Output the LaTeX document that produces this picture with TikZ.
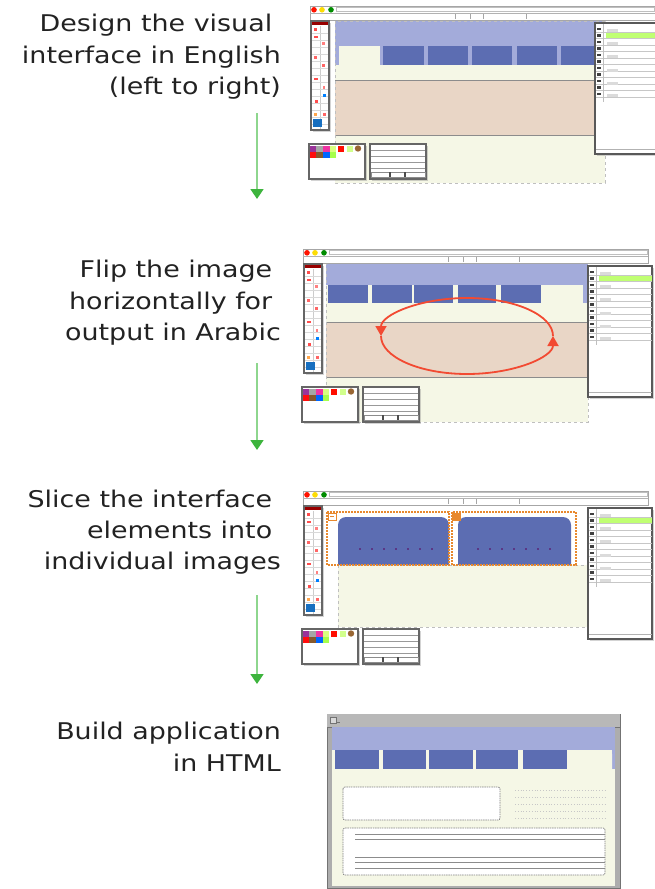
\documentclass[tikz,border=0pt]{standalone}
\usepackage{graphicx}
\usepackage{fontspec}
\setmainfont{DejaVu Sans}
\usetikzlibrary{arrows.meta,shadows}
\definecolor{hdrblue}{HTML}{A3ABDA}
\definecolor{tabblue}{HTML}{5C6DB2}
\definecolor{cream}{HTML}{F5F7E6}
\definecolor{peach}{HTML}{E9D6C6}
\definecolor{arrgreen}{HTML}{3DB43D}
\definecolor{arrline}{HTML}{8ED68E}
\definecolor{sliceorange}{HTML}{E8892E}
\definecolor{flipred}{HTML}{F24A32}
\definecolor{txt}{HTML}{222222}

\tikzset{
  lbl/.style={anchor=base east, inner sep=0pt, text=txt, font=\fontsize{23}{23}\selectfont},
  flow/.style={draw=arrline, line width=1.6pt, -{Triangle[width=13pt,length=10pt,color=arrgreen]}},
  flipline/.style={draw=flipred, line width=1.8pt, -{Triangle[width=11pt,length=10pt,color=flipred]}},
  pal/.style={fill=white, draw=black!60, line width=1.3pt, drop shadow={shadow xshift=1.5pt, shadow yshift=-1.5pt, opacity=0.35}},
  tab/.style={fill=tabblue},
  canvasline/.style={draw=black!45, line width=0.8pt},
  slicebox/.style={draw=sliceorange, line width=1.2pt, dashed, dash pattern=on 2pt off 1pt},
}

\newcommand{\appchrome}{%
  % top bar
  \draw[fill=white, draw=black!35, line width=0.8pt] (0,0) rectangle (345,14);
  \draw[black!30, line width=0.6pt] (0,7) -- (345,7);
  \draw[black!25, line width=0.5pt] (26,1.5) rectangle (344,5.5);
  \foreach \xx in {145,160,173,216} \draw[black!35, line width=0.6pt] (\xx,8) -- (\xx,13);
  \fill[red!85!orange] (4,3.8) circle (2.8);
  \fill[yellow!80!orange] (12,3.8) circle (2.8);
  \fill[green!55!black] (21,3.8) circle (2.8);
  % left tool palette
  \draw[pal] (1,15) rectangle (19,124);
  \fill[red!60!black] (1.6,15.6) rectangle (18.4,19);
  \draw[black!20, line width=0.4pt] (10,20) -- (10,123);
  \foreach \yy in {27,34,...,118} \draw[black!15, line width=0.4pt] (2,\yy) -- (18,\yy);
  \fill[red!70] (4,22) rectangle (7,25);
  \fill[red!70] (4,30) rectangle (8,32);
  \fill[red!50] (12,36) rectangle (15,39);
  \fill[red!60] (4,50) rectangle (7,53);
  \fill[red!60] (12,58) rectangle (15,61);
  \fill[red!70] (4,72) rectangle (8,74);
  \fill[red!50] (13,80) rectangle (15,83);
  \fill[blue!50!cyan] (13,88) rectangle (16,91);
  \fill[red!70] (5,94) rectangle (8,97);
  \fill[orange!70] (4,107) rectangle (7,110);
  \fill[red!60] (13,107) rectangle (16,110);
  \fill[cyan!50!blue] (3,113) rectangle (12,121);
  % right layer palette
  \draw[fill=white, draw=black!65, line width=1.6pt, drop shadow={shadow xshift=1.5pt, shadow yshift=-1.5pt, opacity=0.35}] (285,17) rectangle (349,148);
  \fill[green!45!yellow!55] (296,27) rectangle (349,32);
  \foreach \yy in {26,32.5,...,96} {
    \draw[black!22, line width=0.5pt] (286,\yy) -- (349,\yy);
    \fill[black!75] (286.6,\yy-4.2) rectangle (290.6,\yy-2);
  }
  \foreach \yy in {24.5,38,51,64.5,77.5,90} \fill[black!14] (297,\yy-2) rectangle (308,\yy+1);
  \draw[black!25, line width=0.5pt] (293,18) -- (293,96);
  \draw[black!30, line width=0.6pt] (286,143) -- (349,143);
  % colour palette
  \draw[pal] (-1,138) rectangle (55,173);
  \fill[violet!80] (0,139.5) rectangle (6,145.5);
  \fill[black!35] (6,139.5) rectangle (13,145.5);
  \fill[magenta!80] (13,139.5) rectangle (20,145.5);
  \fill[green!30!yellow!50] (20,139.5) rectangle (26,145.5);
  \fill[red!90!orange] (28,139.5) rectangle (34,145.5);
  \fill[green!40!yellow!45] (37,139.5) rectangle (43,145.5);
  \fill[brown!80!black] (48,142.5) circle (3.2);
  \fill[red!95] (0,145.5) rectangle (6,152);
  \fill[brown!70!black] (6,145.5) rectangle (13,152);
  \fill[blue!60!cyan] (13,145.5) rectangle (20,152);
  \fill[green!50!yellow!70] (20,145.5) rectangle (26,152);
  % info palette
  \draw[pal] (60,138) rectangle (116,173);
  \foreach \yy in {144,150,156,162} \draw[black!40, line width=0.6pt] (61,\yy) -- (115,\yy);
  \draw[black!45, line width=0.6pt] (61,166) rectangle (115,171);
  \fill[black!70] (79,166) rectangle (80.5,171);
  \fill[black!70] (94,166) rectangle (95.5,171);
}

\begin{document}
\begin{tikzpicture}[x=1pt,y=-1pt]
\useasboundingbox (0,0) rectangle (655,889);

% ---------------- labels ----------------
\node[lbl] (t1a) at (281,31) {\scalebox{1.17}[1]{Design the visual\ }};
\node[lbl] (t1b) at (281,63) {\scalebox{1.17}[1]{interface in English}};
\node[lbl] (t1c) at (281,94) {\scalebox{1.17}[1]{(left to right)}};
\node[lbl] (t2a) at (281,277) {\scalebox{1.17}[1]{Flip the image\ }};
\node[lbl] (t2b) at (281,309) {\scalebox{1.17}[1]{horizontally for\ }};
\node[lbl] (t2c) at (281,340) {\scalebox{1.17}[1]{output in Arabic}};
\node[lbl] (t3a) at (281,507) {\scalebox{1.17}[1]{Slice the interface\ }};
\node[lbl] (t3b) at (281,538) {\scalebox{1.17}[1]{elements into\ }};
\node[lbl] (t3c) at (281,569) {\scalebox{1.17}[1]{individual images}};
\node[lbl] (t4a) at (281,739) {\scalebox{1.17}[1]{Build application}};
\node[lbl] (t4b) at (281,771) {\scalebox{1.17}[1]{in HTML}};

% ---------------- arrows ----------------
\coordinate (a1s) at (257,113); \coordinate (a1e) at (257,199);
\coordinate (a2s) at (257,363); \coordinate (a2e) at (257,450);
\coordinate (a3s) at (257,595); \coordinate (a3e) at (257,684);
\draw[flow] (a1s) -- (a1e);
\draw[flow] (a2s) -- (a2e);
\draw[flow] (a3s) -- (a3e);

% ---------------- panel 1 : design ----------------
\fill[cream] (335,21) rectangle (605,183);
\fill[hdrblue] (335,21) rectangle (605,65);
\fill[cream] (339,46) rectangle (380,66);
\fill[cream] (335,65) rectangle (605,80);
\foreach \a/\b in {383/424,428/468,472/512,517/557,561/600} \fill[tabblue] (\a,46) rectangle (\b,65);
\fill[peach] (335,80) rectangle (605,135);
\draw[canvasline] (335,80) -- (605,80);
\draw[canvasline] (335,135) -- (605,135);
\draw[black!25, line width=0.6pt, dashed] (335,21) rectangle (605,183);
\begin{scope}[shift={(310,6)}]
\appchrome
\end{scope}

% ---------------- panel 2 : flipped ----------------
\fill[cream] (326,262) rectangle (588,422);
\fill[hdrblue] (326,262) rectangle (588,285);
\fill[hdrblue] (583,285) rectangle (588,303);
\fill[cream] (543,285) rectangle (583,304);
\foreach \a/\b in {328/368,372/412,414/453,458/496,501/541} \fill[tabblue] (\a,285) rectangle (\b,303);
\fill[peach] (326,322) rectangle (588,377);
\draw[canvasline] (326,322) -- (588,322);
\draw[canvasline] (326,377) -- (588,377);
\draw[black!25, line width=0.6pt, dashed] (326,262) rectangle (588,422);
\coordinate (flipR) at (553,336);
\coordinate (flipL) at (381,336);
\draw[flipline] (flipR) arc[start angle=0, end angle=-180, x radius=86, y radius=38];
\draw[flipline] (flipL) arc[start angle=180, end angle=0, x radius=86, y radius=38];
\begin{scope}[shift={(303,249)}]
\appchrome
\end{scope}

% ---------------- panel 3 : sliced ----------------
\fill[cream] (338,565) rectangle (588,627);
\draw[black!25, line width=0.6pt, dashed] (338,565) rectangle (588,627);
\fill[tabblue] (338,565) -- (338,525) arc[start angle=180, end angle=270, radius=8] -- (441,517) arc[start angle=270, end angle=360, radius=8] -- (449,565) -- cycle;
\fill[tabblue] (458,565) -- (458,525) arc[start angle=180, end angle=270, radius=8] -- (563,517) arc[start angle=270, end angle=360, radius=8] -- (571,565) -- cycle;
\foreach \xx in {360,372,...,432} \fill[violet!70!black] (\xx,549) circle (0.9);
\foreach \xx in {478,490,...,556} \fill[violet!70!black] (\xx,549) circle (0.9);
\draw[slicebox] (327,512) rectangle (449,565);
\draw[slicebox] (452,512) rectangle (576,565);
\draw[sliceorange, line width=1pt, fill=white] (328,513) rectangle (336,520);
\draw[sliceorange, line width=0.8pt] (330,516.5) -- (334,516.5);
\fill[sliceorange] (452,513) rectangle (461,521);
\begin{scope}[shift={(303,491)}]
\appchrome
\end{scope}

% ---------------- panel 4 : HTML ----------------
\draw[fill=black!32, draw=black!55, line width=0.8pt] (327,714) rectangle (620,888);
\fill[black!28] (327,714) rectangle (620,727);
\draw[black!55, line width=0.6pt] (327,727) -- (620,727);
\draw[black!55, line width=0.6pt, fill=black!15] (330,717) rectangle (336,723);
\draw[black!55, line width=0.5pt] (337,722) -- (340,722);
\fill[cream] (332,727) rectangle (615,886);
\fill[hdrblue] (332,727) rectangle (615,750);
\fill[hdrblue] (612,750) rectangle (615,769);
\fill[cream] (568,770) -- (568,750) -- (608,750) arc[start angle=270, end angle=360, radius=4] -- (612,770) -- cycle;
\foreach \a/\b in {335/379,383/426,429/473,476/518,523/567} \fill[tabblue] (\a,750) rectangle (\b,769);
\draw[black!50, line width=0.7pt, dashed, dash pattern=on 1.5pt off 0.8pt, fill=white, rounded corners=2pt] (343,787) rectangle (500,820);
\foreach \yy in {790,797,804,811,818} \draw[black!22, line width=0.8pt, dotted] (515,\yy) -- (607,\yy);
\draw[black!50, line width=0.7pt, dashed, dash pattern=on 1.5pt off 0.8pt, fill=white, rounded corners=2pt] (343,828) rectangle (605,875);
\foreach \yy in {834,839,857,862,868} \draw[black!45, line width=0.8pt] (355,\yy) -- (605,\yy);
\end{tikzpicture}
\end{document}
